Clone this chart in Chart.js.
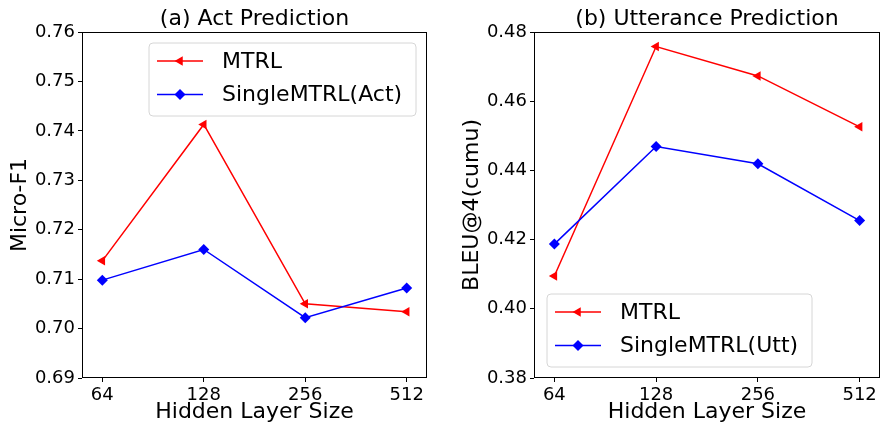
<!DOCTYPE html>
<html><head><meta charset="utf-8">
<script src="https://cdn.jsdelivr.net/npm/chart.js@4.4.1/dist/chart.umd.min.js"></script>
<style>
html,body{margin:0;padding:0;background:#fff;overflow:hidden}
#wrap{position:relative;width:891px;height:428px;background:#fff}
canvas{position:absolute;top:0}
</style></head><body>
<div id="wrap">
<canvas id="c1" width="445" height="428" style="left:0;width:445px;height:428px"></canvas>
<canvas id="c2" width="446" height="428" style="left:445px;width:446px;height:428px"></canvas>
</div>
<script>
// ---- data ----
const hiddenSizes = ['64', '128', '256', '512'];
const actMTRL   = [0.7137, 0.7413, 0.7050, 0.7034];
const actSingle = [0.7098, 0.7160, 0.7022, 0.7082];
const uttMTRL   = [0.4095, 0.4758, 0.4673, 0.4526];
const uttSingle = [0.4187, 0.4469, 0.4419, 0.4255];
const actYTicks = [0.69, 0.70, 0.71, 0.72, 0.73, 0.74, 0.75, 0.76];
const uttYTicks = [0.38, 0.40, 0.42, 0.44, 0.46, 0.48];

const FONT = 'DejaVu Sans';
Chart.defaults.font.family = FONT;
Chart.defaults.color = '#000';

function drawMarker(ctx, style, x, y, r, rotDeg) {
  ctx.beginPath();
  if (style === 'triangle') {
    let rad = rotDeg * Math.PI / 180;
    ctx.moveTo(x + Math.sin(rad) * r, y - Math.cos(rad) * r);
    rad += 2 * Math.PI / 3;
    ctx.lineTo(x + Math.sin(rad) * r, y - Math.cos(rad) * r);
    rad += 2 * Math.PI / 3;
    ctx.lineTo(x + Math.sin(rad) * r, y - Math.cos(rad) * r);
  } else {
    ctx.moveTo(x - r, y); ctx.lineTo(x, y - r); ctx.lineTo(x + r, y); ctx.lineTo(x, y + r);
  }
  ctx.closePath();
  ctx.fill();
}

const decor = {
  id: 'decor',
  afterDraw(chart, args, o) {
    const ctx = chart.ctx, a = chart.chartArea;
    ctx.save();
    // frame
    ctx.strokeStyle = '#000'; ctx.lineWidth = 1;
    ctx.strokeRect(Math.round(a.left) + 0.5, Math.round(a.top) + 0.5,
                   Math.round(a.right - a.left) - 1, Math.round(a.bottom - a.top) - 1);
    // title
    ctx.fillStyle = '#000';
    ctx.font = '22px "DejaVu Sans"';
    ctx.textAlign = 'center'; ctx.textBaseline = 'middle';
    ctx.fillText(o.title, (a.left + a.right) / 2, o.titleY);
    // legend
    const bx = a.left + o.lx, by = a.top + o.ly, bw = o.lw, bh = o.lh, rr = 4;
    ctx.beginPath();
    ctx.moveTo(bx + rr, by); ctx.lineTo(bx + bw - rr, by); ctx.arcTo(bx + bw, by, bx + bw, by + rr, rr);
    ctx.lineTo(bx + bw, by + bh - rr); ctx.arcTo(bx + bw, by + bh, bx + bw - rr, by + bh, rr);
    ctx.lineTo(bx + rr, by + bh); ctx.arcTo(bx, by + bh, bx, by + bh - rr, rr);
    ctx.lineTo(bx, by + rr); ctx.arcTo(bx, by, bx + rr, by, rr);
    ctx.closePath();
    ctx.fillStyle = 'rgba(255,255,255,0.8)'; ctx.fill();
    ctx.strokeStyle = '#d6d6d6'; ctx.lineWidth = 1; ctx.stroke();
    chart.data.datasets.forEach((ds, i) => {
      const y = by + 18 + i * 33.5;
      ctx.strokeStyle = ds.borderColor; ctx.lineWidth = 1.5;
      ctx.beginPath(); ctx.moveTo(bx + 8, y); ctx.lineTo(bx + 54, y); ctx.stroke();
      ctx.fillStyle = ds.pointBackgroundColor;
      drawMarker(ctx, ds.pointStyle, bx + 31, y, ds.pointRadius, ds.pointRotation || 0);
      ctx.fillStyle = '#000';
      ctx.font = '22px "DejaVu Sans"';
      ctx.textAlign = 'left'; ctx.textBaseline = 'middle';
      ctx.fillText(ds.label, bx + 73, y + 1);
    });
    ctx.restore();
  }
};

function makeDatasets(mtrl, single, singleLabel) {
  return [
    { label: 'MTRL', data: mtrl.map((v, i) => ({ x: i, y: v })),
      borderColor: '#ff0000', backgroundColor: '#ff0000', pointBackgroundColor: '#ff0000',
      pointBorderWidth: 0, borderWidth: 1.5, pointStyle: 'triangle', pointRotation: -90,
      pointRadius: 5.5, order: 1, tension: 0 },
    { label: singleLabel, data: single.map((v, i) => ({ x: i, y: v })),
      borderColor: '#0000ff', backgroundColor: '#0000ff', pointBackgroundColor: '#0000ff',
      pointBorderWidth: 0, borderWidth: 1.5, pointStyle: 'rectRot',
      pointRadius: 5.5, order: 0, tension: 0 }
  ];
}

function makeScales(yTicks, yTitle, yWidth, yTitlePad) {
  return {
    x: {
      type: 'linear', min: -0.2, max: 3.2,
      afterBuildTicks(s) { s.ticks = hiddenSizes.map((_, i) => ({ value: i })); },
      afterFit(s) { s.height = 50; },
      ticks: { callback: (v) => hiddenSizes[Math.round(v)], color: '#000',
               font: { family: FONT, size: 18 }, padding: 3, maxRotation: 0, autoSkip: false },
      grid: { display: true, drawOnChartArea: false, drawTicks: true, tickLength: 4, color: '#000', lineWidth: 1 },
      border: { display: false },
      title: { display: true, text: 'Hidden Layer Size', color: '#000',
               font: { family: FONT, size: 22 }, padding: { top: 0, bottom: 3 } }
    },
    y: {
      type: 'linear', min: yTicks[0], max: yTicks[yTicks.length - 1],
      afterBuildTicks(s) { s.ticks = yTicks.map(v => ({ value: v })); },
      afterFit(s) { s.width = yWidth; },
      ticks: { callback: (v) => Number(v).toFixed(2), color: '#000',
               font: { family: FONT, size: 18 }, padding: 3, autoSkip: false },
      grid: { display: true, drawOnChartArea: false, drawTicks: true, tickLength: 4, color: '#000', lineWidth: 1 },
      border: { display: false },
      title: { display: true, text: yTitle, color: '#000',
               font: { family: FONT, size: 22 }, padding: { top: yTitlePad, bottom: 0 } }
    }
  };
}

new Chart(document.getElementById('c1'), {
  type: 'line',
  data: { datasets: makeDatasets(actMTRL, actSingle, 'SingleMTRL(Act)') },
  options: {
    responsive: false, animation: false, devicePixelRatio: 1,
    layout: { padding: { top: 32, right: 18, left: 0, bottom: 0 } },
    scales: makeScales(actYTicks, 'Micro-F1', 82, 7),
    plugins: {
      legend: { display: false }, tooltip: { enabled: false },
      decor: { title: '(a) Act Prediction', titleY: 19, lx: 67, ly: 11, lw: 267, lh: 73 }
    }
  },
  plugins: [decor]
});

new Chart(document.getElementById('c2'), {
  type: 'line',
  data: { datasets: makeDatasets(uttMTRL, uttSingle, 'SingleMTRL(Utt)') },
  options: {
    responsive: false, animation: false, devicePixelRatio: 1,
    layout: { padding: { top: 32, right: 11, left: 0, bottom: 0 } },
    scales: makeScales(uttYTicks, 'BLEU@4(cumu)', 89, 14),
    plugins: {
      legend: { display: false }, tooltip: { enabled: false },
      decor: { title: '(b) Utterance Prediction', titleY: 19, lx: 13, ly: 262, lw: 265, lh: 73 }
    }
  },
  plugins: [decor]
});
</script>
</body></html>
